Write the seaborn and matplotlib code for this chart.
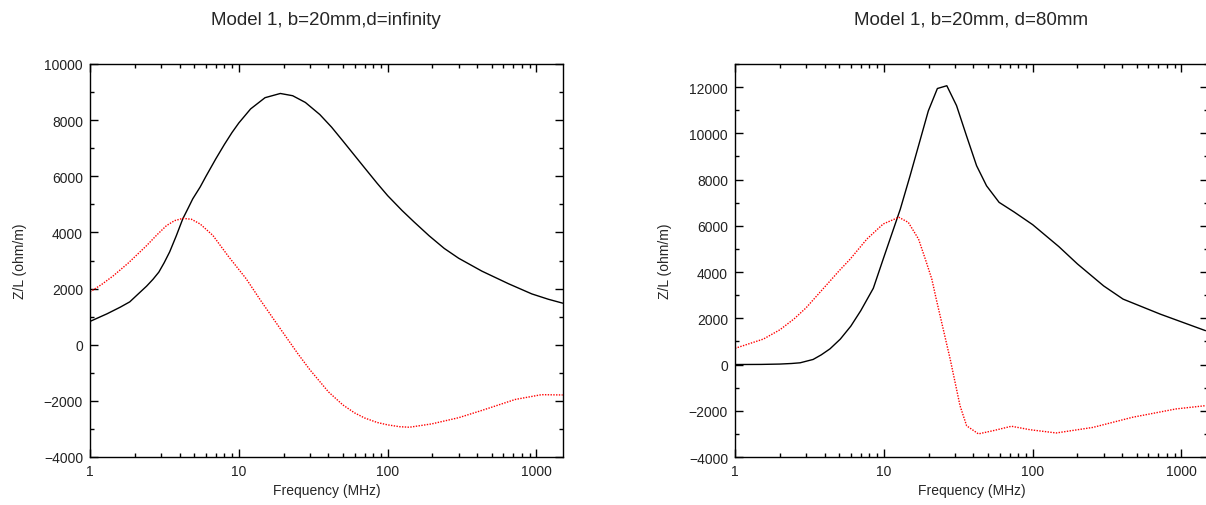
import numpy as np
import pandas as pd
import matplotlib
matplotlib.use("Agg")
import matplotlib.pyplot as plt
import seaborn as sns
from matplotlib.ticker import FixedLocator, LogLocator, NullFormatter, MultipleLocator

# ---- data: left panel (d = infinity) ----
freq_l_re = [1, 1.3, 1.6, 1.85, 2.1, 2.4, 2.65, 2.9, 3.15, 3.43, 3.8, 4.2, 4.6, 4.9, 5.5, 6, 7, 8, 9, 10, 12, 15, 19,
             23, 28, 35, 42, 50, 60, 70, 85, 100, 125, 150, 190, 240, 300, 430, 650, 930, 1200, 1500]
re_l = [830, 1100, 1340, 1527, 1800, 2086, 2330, 2585, 2920, 3307, 3880, 4482, 4900, 5195, 5620, 5990, 6620, 7135, 7560, 7900, 8400, 8800, 8950,
        8870, 8630, 8200, 7750, 7260, 6740, 6300, 5750, 5310, 4780, 4380, 3880, 3430, 3080, 2620, 2170, 1810, 1620, 1480]
freq_l_im = [1, 1.2, 1.43, 1.8, 2.4, 2.8, 3.26, 3.7, 4.2, 4.8, 5.5, 6.7, 8.5, 11.2, 14, 18.7, 25, 30, 40, 50, 60, 70, 85,
             100, 120, 140, 198, 300, 430, 720, 1080, 1500]
im_l = [1880, 2150, 2450, 2900, 3530, 3900, 4240, 4420, 4500, 4470, 4300, 3890, 3150, 2350, 1580, 620, -330, -890, -1680, -2145, -2430, -2610, -2770,
        -2855, -2920, -2940, -2820, -2600, -2340, -1950, -1780, -1790]

# ---- data: right panel (d = 80 mm) ----
freq_r_re = [1, 1.5, 2, 2.4, 2.74, 3.35, 3.8, 4.35, 5.1, 6, 7, 8.5, 9.9, 12.9, 15, 17.1, 19.9, 22.9, 26.5, 30.8, 35.9, 42, 49, 59.5,
             75, 100, 150, 200, 300, 405, 720, 1450]
re_r = [0, 5, 20, 45, 75, 220, 420, 680, 1100, 1660, 2330, 3300, 4560, 6720, 8160, 9460, 10970, 11940, 12060, 11200, 9900, 8600, 7730, 7015,
        6600, 6050, 5100, 4350, 3400, 2830, 2180, 1465]
freq_r_im = [1, 1.55, 2, 2.5, 3, 4, 5, 5.94, 7.7, 9.9, 12.6, 14.6, 17.1, 19, 21, 22.5, 27.9, 32.5, 36, 43.2, 54.4, 72, 96, 144, 254, 470, 920, 1450]
im_r = [700, 1100, 1500, 1980, 2450, 3350, 4050, 4560, 5430, 6080, 6370, 6150, 5430, 4560, 3700, 2830, 240, -1780, -2650, -3000, -2860, -2670, -2820, -2960, -2720, -2280, -1920, -1780]

titles = ["Model 1, b=20mm,d=infinity", "Model 1, b=20mm, d=80mm"]
ylims = [(-4000, 10000), (-4000, 13000)]
yticks = [list(range(-4000, 10001, 2000)), list(range(-4000, 12001, 2000))]
xticks = [1, 10, 100, 1000]
xlabel = "Frequency (MHz)"
ylabel = "Z/L (ohm/m)"

sns.set_theme(style="white")
plt.rcParams['font.family'] = ['Liberation Sans', 'DejaVu Sans']
plt.rcParams['axes.edgecolor'] = 'black'
plt.rcParams['axes.linewidth'] = 1.0

W, H = 1206, 506
fig = plt.figure(figsize=(W / 100, H / 100), dpi=100)
ax_w = 472.7 / W
ax_h = 393 / H
ax_b = (H - 458) / H
axes = [fig.add_axes([90 / W, ax_b, ax_w, ax_h]), fig.add_axes([735 / W, ax_b, ax_w, ax_h])]

panels = [
    (freq_l_re, re_l, freq_l_im, im_l),
    (freq_r_re, re_r, freq_r_im, im_r),
]

for i, (ax, (fr, re, fi, im)) in enumerate(zip(axes, panels)):
    sns.lineplot(x=fr, y=re, ax=ax, color='black', linewidth=1.0)
    sns.lineplot(x=fi, y=im, ax=ax, color='red', linewidth=1.0, linestyle=(0, (1, 1)))
    ax.set_xscale('log')
    ax.set_xlim(1, 1500)
    ax.set_ylim(*ylims[i])
    ax.xaxis.set_major_locator(FixedLocator(xticks))
    ax.set_xticklabels([str(t) for t in xticks])
    ax.xaxis.set_minor_locator(LogLocator(base=10, subs=np.arange(2, 10)))
    ax.xaxis.set_minor_formatter(NullFormatter())
    ax.yaxis.set_major_locator(FixedLocator(yticks[i]))
    ax.set_yticklabels([str(t).replace('-', '\u2212') for t in yticks[i]])
    ax.yaxis.set_minor_locator(MultipleLocator(1000))
    ax.tick_params(which='both', direction='in', top=True, right=True, bottom=True, left=True,
                   colors='black', labelcolor='#222222', labelsize=10, width=1.0)
    ax.tick_params(which='major', length=6, pad=5)
    ax.tick_params(which='minor', length=3)
    ax.set_xlabel(xlabel, fontsize=10, labelpad=4)
    ax.set_ylabel(ylabel, fontsize=10, labelpad=12)
    ax.set_title(titles[i], fontsize=13.5, pad=29)
    for s in ax.spines.values():
        s.set_visible(True)
        s.set_color('black')

fig.savefig("out.png", dpi=100)
